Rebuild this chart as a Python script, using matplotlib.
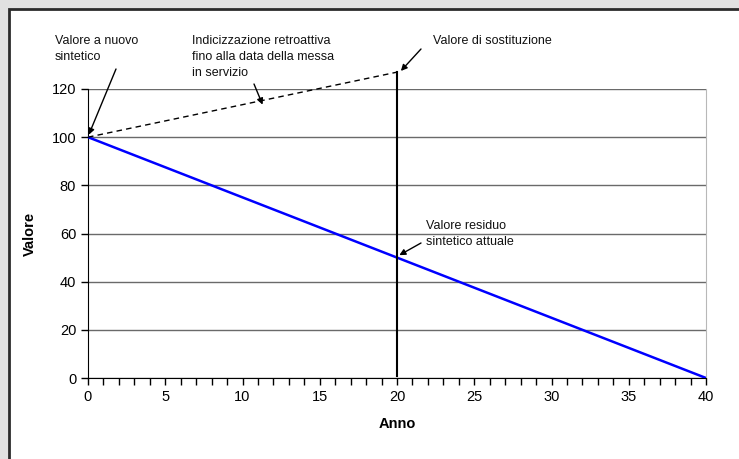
import numpy as np
import matplotlib
matplotlib.use("Agg")
import matplotlib.pyplot as plt
from matplotlib.patches import Rectangle

plt.rcParams['font.family'] = ['Liberation Sans', 'DejaVu Sans']

# residual value per year (linear depreciation over 40 years)
anni = list(range(0, 41))
valore_residuo = [100.0, 97.5, 95.0, 92.5, 90.0, 87.5, 85.0, 82.5, 80.0, 77.5,
                  75.0, 72.5, 70.0, 67.5, 65.0, 62.5, 60.0, 57.5, 55.0, 52.5,
                  50.0, 47.5, 45.0, 42.5, 40.0, 37.5, 35.0, 32.5, 30.0, 27.5,
                  25.0, 22.5, 20.0, 17.5, 15.0, 12.5, 10.0, 7.5, 5.0, 2.5, 0.0]

# retroactive indexation up to the replacement value
anni_indice = [0, 20]
valore_indice = [100, 127]

anno_attuale = 20
valore_sostituzione = 127

fig = plt.figure(figsize=(7.39, 4.59), dpi=100, facecolor='#e1e1e1')
# white panel with dark frame
fig.patches.append(Rectangle((9 / 739, -0.05), 1.1, 1 - 9 / 459 + 0.05,
                             transform=fig.transFigure, facecolor='white',
                             edgecolor='#2b2b2b', linewidth=2, zorder=-10))

ax = fig.add_axes([88 / 739, 1 - 378 / 459, (706 - 88) / 739, (378 - 89) / 459])
ax.set_facecolor('white')

ax.plot(anni, valore_residuo, color='#0000ff', lw=1.8, zorder=3)
ax.plot(anni_indice, valore_indice, color='black', lw=1, ls=(0, (4, 3)),
        clip_on=False, zorder=3)
ax.plot([anno_attuale, anno_attuale], [0.7, valore_sostituzione], color='black',
        lw=1.5, clip_on=False, zorder=3)

ax.set_xlim(0, 40)
ax.set_ylim(0, 120)
ax.set_xticks(range(0, 41, 5))
ax.set_xticks(range(0, 41), minor=True)
ax.set_yticks(range(0, 121, 20))
ax.tick_params(axis='both', direction='out', length=5, width=1, labelsize=10.5,
               color='black')
ax.tick_params(axis='x', which='minor', direction='out', length=5, width=1)
ax.yaxis.grid(True, color='#6a6a6a', lw=1)
ax.set_axisbelow(True)
ax.spines['left'].set_color('black')
ax.spines['bottom'].set_color('black')
ax.spines['top'].set_visible(False)
ax.spines['right'].set_color('#b8b8b8')

ax.set_xlabel('Anno', fontweight='bold', fontsize=10.5)
ax.set_ylabel('Valore', fontweight='bold', fontsize=10.5)
ax.xaxis.set_label_coords(0.5, (378 - 424) / 289)
ax.yaxis.set_label_coords((30 - 88) / 618, 0.5)
ax.xaxis.label.set_va('center')
ax.yaxis.label.set_va('center')

arrow = dict(arrowstyle='-|>', color='black', lw=1, mutation_scale=9,
             shrinkA=0, shrinkB=0)
txt = dict(xycoords='figure pixels', textcoords='figure pixels',
           ha='left', va='top', fontsize=9, linespacing=1.45, color='#111111')
ax.annotate('Valore a nuovo\nsintetico', xy=(0, 0), xytext=(55, 459 - 35), **txt)
ax.annotate('', xy=(0.05, 101), xytext=(116, 459 - 69),
            textcoords='figure pixels', arrowprops=arrow, annotation_clip=False)

ax.annotate('Indicizzazione retroattiva\nfino alla data della messa\nin servizio',
            xy=(0, 0), xytext=(192, 459 - 35), **txt)
ax.annotate('', xy=(11.3, 113.5), xytext=(254, 459 - 84),
            textcoords='figure pixels', arrowprops=arrow, annotation_clip=False)

ax.annotate('Valore di sostituzione', xy=(0, 0), xytext=(433, 459 - 35), **txt)
ax.annotate('', xy=(20.25, 127.5), xytext=(421, 459 - 49),
            textcoords='figure pixels', arrowprops=arrow, annotation_clip=False)

ax.annotate('Valore residuo\nsintetico attuale', xy=(0, 0), xytext=(426, 459 - 220),
            **txt)
ax.annotate('', xy=(20.15, 51), xytext=(421, 459 - 243),
            textcoords='figure pixels', arrowprops=arrow, annotation_clip=False)

fig.savefig('out.png', dpi=100, facecolor=fig.get_facecolor())
